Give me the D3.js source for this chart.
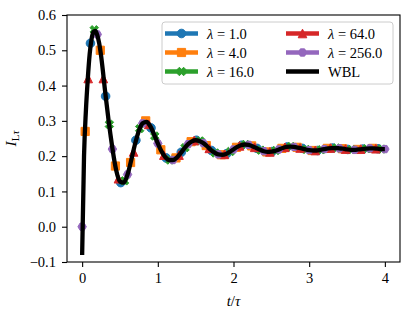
<!DOCTYPE html>
<html>
<head>
<meta charset="utf-8">
<script src="https://cdn.jsdelivr.net/npm/d3@7"></script>
<style>
  body { margin: 0; background: #fff; }
  svg text { font-family: "Liberation Serif", "DejaVu Serif", serif; }
</style>
</head>
<body>
<div id="chart"></div>
<script>
// WBL reference curve
const wblT = [0, 0.025, 0.05, 0.075, 0.1, 0.125, 0.15, 0.175, 0.2, 0.225, 0.25, 0.275, 0.3, 0.325, 0.35, 0.375, 0.4,
  0.45, 0.5, 0.55, 0.6, 0.65, 0.7, 0.75, 0.8, 0.85, 0.9, 0.95, 1.0, 1.05, 1.1, 1.15, 1.2, 1.25, 1.3, 1.35, 1.4, 1.45,
  1.5, 1.55, 1.6, 1.65, 1.7, 1.75, 1.8, 1.85, 1.9, 1.95, 2.0, 2.05, 2.1, 2.15, 2.2, 2.25, 2.3, 2.35, 2.4, 2.45, 2.5,
  2.55, 2.6, 2.65, 2.7, 2.75, 2.8, 2.85, 2.9, 2.95, 3.0, 3.05, 3.1, 3.15, 3.2, 3.25, 3.3, 3.35, 3.4, 3.45, 3.5, 3.55,
  3.6, 3.65, 3.7, 3.75, 3.8, 3.85, 3.9, 3.95, 4.0];
const wblV = [-0.08, 0.20, 0.33, 0.42, 0.49, 0.532, 0.552, 0.555, 0.543, 0.52, 0.485, 0.44, 0.39, 0.345, 0.30, 0.26, 0.222,
  0.16, 0.128, 0.125, 0.148, 0.19, 0.235, 0.272, 0.293, 0.297, 0.285, 0.262, 0.236, 0.213, 0.197, 0.189, 0.189, 0.196,
  0.208, 0.222, 0.234, 0.242, 0.245, 0.243, 0.237, 0.228, 0.218, 0.210, 0.205, 0.204, 0.206, 0.212, 0.219, 0.226, 0.231,
  0.233, 0.232, 0.228, 0.223, 0.218, 0.214, 0.212, 0.213, 0.215, 0.219, 0.223, 0.226, 0.227, 0.226, 0.224, 0.222, 0.219,
  0.217, 0.216, 0.216, 0.218, 0.220, 0.222, 0.223, 0.223, 0.222, 0.221, 0.219, 0.218, 0.218, 0.219, 0.220, 0.221, 0.222,
  0.222, 0.221, 0.220, 0.220];

// lambda runs (marker positions)
const t1 = [0.11, 0.31, 0.51, 0.71, 0.91, 1.11, 1.31, 1.51, 1.71, 1.91, 2.11, 2.31, 2.51, 2.71, 2.91, 3.11, 3.31, 3.51, 3.71, 3.91];
const v1 = [0.52, 0.37, 0.125, 0.245, 0.28, 0.195, 0.211, 0.245, 0.216, 0.207, 0.231, 0.222, 0.213, 0.226, 0.222, 0.216, 0.223, 0.219, 0.220, 0.221];
const t4 = [0.04, 0.24, 0.44, 0.64, 0.84, 1.04, 1.24, 1.44, 1.64, 1.84, 2.04, 2.24, 2.44, 2.64, 2.84, 3.04, 3.24, 3.44, 3.64, 3.84];
const v4 = [0.27, 0.50, 0.172, 0.182, 0.30, 0.218, 0.195, 0.241, 0.230, 0.204, 0.225, 0.229, 0.212, 0.222, 0.225, 0.216, 0.222, 0.221, 0.219, 0.222];
const t16 = [0.16, 0.36, 0.56, 0.76, 0.96, 1.16, 1.36, 1.56, 1.76, 1.96, 2.16, 2.36, 2.56, 2.76, 2.96, 3.16, 3.36, 3.56, 3.76, 3.96];
const v16 = [0.558, 0.29, 0.13, 0.278, 0.257, 0.189, 0.224, 0.243, 0.209, 0.213, 0.233, 0.217, 0.216, 0.227, 0.219, 0.218, 0.223, 0.218, 0.221, 0.220];
const t64 = [0.08, 0.28, 0.48, 0.68, 0.88, 1.08, 1.28, 1.48, 1.68, 1.88, 2.08, 2.28, 2.48, 2.68, 2.88, 3.08, 3.28, 3.48, 3.68, 3.88];
const v64 = [0.42, 0.42, 0.136, 0.212, 0.29, 0.203, 0.203, 0.244, 0.222, 0.205, 0.229, 0.225, 0.212, 0.225, 0.223, 0.216, 0.223, 0.220, 0.220, 0.221];
const t256 = [0, 0.2, 0.4, 0.6, 0.8, 1.0, 1.2, 1.4, 1.6, 1.8, 2.0, 2.2, 2.4, 2.6, 2.8, 3.0, 3.2, 3.4, 3.6, 3.8, 4.0];
const v256 = [0.0, 0.545, 0.22, 0.148, 0.293, 0.236, 0.189, 0.234, 0.237, 0.205, 0.219, 0.232, 0.214, 0.219, 0.226, 0.217, 0.220, 0.222, 0.218, 0.222, 0.220];

const lambdas = ["1.0", "4.0", "16.0", "64.0", "256.0"];
const xTicks = [0, 1, 2, 3, 4];
const yTicks = [-0.1, 0.0, 0.1, 0.2, 0.3, 0.4, 0.5, 0.6];

// matplotlib-like marker shapes, size = marker extent in px
const mk = {
  circle: { draw(c, s) { const r = s / 2; c.moveTo(r, 0); c.arc(0, 0, r, 0, 2 * Math.PI); } },
  square: { draw(c, s) { const h = s / 2; c.moveTo(-h, -h); c.lineTo(h, -h); c.lineTo(h, h); c.lineTo(-h, h); c.closePath(); } },
  triangle: { draw(c, s) { const h = s / 2; c.moveTo(0, -h); c.lineTo(h, h); c.lineTo(-h, h); c.closePath(); } },
  xfill: { draw(c, s) {
    const h = s / 2, a = s / 6;
    const pts = [[-a, -h], [a, -h], [a, -a], [h, -a], [h, a], [a, a], [a, h], [-a, h], [-a, a], [-h, a], [-h, -a], [-a, -a]];
    const k = Math.SQRT1_2;
    pts.forEach((p, i) => {
      const px = (p[0] - p[1]) * k, py = (p[0] + p[1]) * k;
      if (i === 0) c.moveTo(px, py); else c.lineTo(px, py);
    });
    c.closePath();
  } },
  hexagon: { draw(c, s) {
    const r = s / 2;
    for (let i = 0; i < 6; i++) {
      const a = i * Math.PI / 3;
      if (i === 0) c.moveTo(r * Math.cos(a), r * Math.sin(a)); else c.lineTo(r * Math.cos(a), r * Math.sin(a));
    }
    c.closePath();
  } }
};

const series = [
  { t: t1, v: v1, color: "#1f77b4", shape: mk.circle, size: 8.6 },
  { t: t4, v: v4, color: "#ff7f0e", shape: mk.square, size: 8.2 },
  { t: t16, v: v16, color: "#2ca02c", shape: mk.xfill, size: 9 },
  { t: t64, v: v64, color: "#d62728", shape: mk.triangle, size: 8.6 },
  { t: t256, v: v256, color: "#9467bd", shape: mk.hexagon, size: 8.4 }
];
series.forEach((s, i) => s.label = lambdas[i]);

const W = 415, H = 315, FS = 14.5;
const SERIF = "'Liberation Serif', 'DejaVu Serif', serif";
const svg = d3.select("#chart").append("svg").attr("width", W).attr("height", H);

const x = d3.scaleLinear().domain([-0.2, 4.2]).range([67, 400]);
const y = d3.scaleLinear().domain([-0.1, 0.6]).range([262, 15]);

const fmtY = v => d3.format(".1f")(v).replace("-", "\u2212");

svg.append("g")
  .attr("transform", `translate(0,262)`)
  .call(d3.axisBottom(x).tickValues(xTicks).tickSize(5).tickPadding(5.5).tickFormat(d3.format("d")))
  .attr("font-family", SERIF)
  .call(g => g.select(".domain").remove())
  .call(g => g.selectAll("text").attr("font-size", FS).attr("fill", "#000"))
  .call(g => g.selectAll("line").attr("stroke", "#000").attr("stroke-width", 1.1));

svg.append("g")
  .attr("transform", `translate(67,0)`)
  .call(d3.axisLeft(y).tickValues(yTicks).tickSize(5).tickPadding(6).tickFormat(fmtY))
  .attr("font-family", SERIF)
  .call(g => g.select(".domain").remove())
  .call(g => g.selectAll("text").attr("font-size", FS).attr("fill", "#000"))
  .call(g => g.selectAll("line").attr("stroke", "#000").attr("stroke-width", 1.1));

// markers for each lambda run
const sym = d3.symbol();
series.forEach(s => {
  svg.append("g").selectAll("path")
    .data(s.t.map((t, i) => [t, s.v[i]]))
    .join("path")
    .attr("d", sym.type(s.shape).size(s.size)())
    .attr("transform", d => `translate(${x(d[0])},${y(d[1])})`)
    .attr("fill", s.color)
    .attr("stroke", s.color)
    .attr("stroke-width", 1);
});

// WBL line on top
const line = d3.line().x(d => x(d[0])).y(d => y(d[1])).curve(d3.curveMonotoneX);
svg.append("path")
  .datum(wblT.map((t, i) => [t, wblV[i]]))
  .attr("d", line)
  .attr("fill", "none")
  .attr("stroke", "#000")
  .attr("stroke-width", 4.3);

// frame
svg.append("rect")
  .attr("x", 67).attr("y", 15).attr("width", 333).attr("height", 247)
  .attr("fill", "none").attr("stroke", "#000").attr("stroke-width", 1.1);

// legend
const leg = svg.append("g");
leg.append("rect")
  .attr("x", 162).attr("y", 22).attr("width", 231).attr("height", 62)
  .attr("rx", 3).attr("fill", "#fff").attr("fill-opacity", 0.8)
  .attr("stroke", "#cccccc").attr("stroke-width", 1);

const entries = series.map(s => ({ color: s.color, shape: s.shape, size: s.size, label: s.label }));
entries.push({ color: "#000", shape: null, label: "WBL" });
const colX = [165, 286], rowY = [33.5, 52.5, 71.5];
entries.forEach((e, i) => {
  const cx = colX[Math.floor(i / 3)], cy = rowY[i % 3];
  const g = leg.append("g");
  g.append("line").attr("x1", cx).attr("x2", cx + 33).attr("y1", cy).attr("y2", cy)
    .attr("stroke", e.color).attr("stroke-width", 4.3);
  if (e.shape) {
    g.append("path").attr("d", sym.type(e.shape).size(e.size)())
      .attr("transform", `translate(${cx + 16.5},${cy})`)
      .attr("fill", e.color).attr("stroke", e.color);
  }
  const tx = g.append("text").attr("x", cx + 42).attr("y", cy + 5).attr("font-size", FS);
  if (e.shape) {
    tx.append("tspan").attr("font-style", "italic").text("\u03bb");
    tx.append("tspan").text("\u2005=\u2005" + e.label);
  } else {
    tx.text(e.label);
  }
});

// axis labels
const xl = svg.append("text").attr("x", 233.5).attr("y", 306).attr("text-anchor", "middle").attr("font-size", FS + 0.5);
xl.append("tspan").attr("font-style", "italic").text("t");
xl.append("tspan").text("/");
xl.append("tspan").attr("font-style", "italic").text("\u03c4");

const yl = svg.append("text").attr("transform", "translate(16,138.5) rotate(-90)")
  .attr("text-anchor", "middle").attr("font-size", FS + 1);
yl.append("tspan").attr("font-style", "italic").text("I");
yl.append("tspan").attr("font-size", 11).attr("dy", 3).text("L");
yl.append("tspan").attr("font-size", 11).attr("font-style", "italic").text("\u03c4");
</script>
</body>
</html>
